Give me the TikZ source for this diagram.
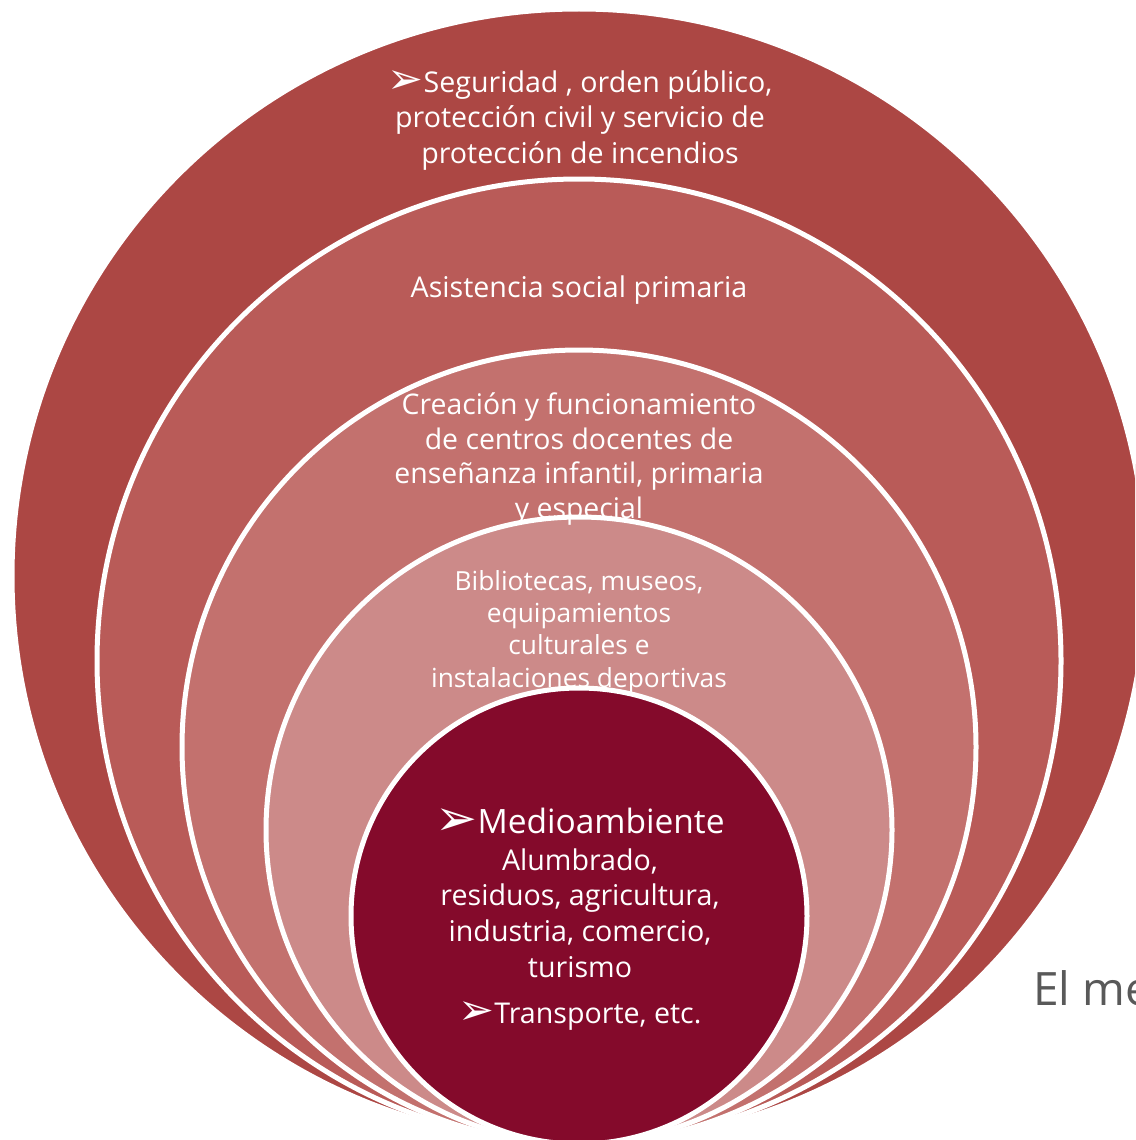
\documentclass[tikz,border=0pt]{standalone}
\usepackage{fontspec}
\setmainfont{Open Sans}
\newfontfamily\dingfont{DejaVu Sans}
\definecolor{cA}{HTML}{AC4744}
\definecolor{cB}{HTML}{B95B58}
\definecolor{cC}{HTML}{C3716E}
\definecolor{cD}{HTML}{CC8A89}
\definecolor{cE}{HTML}{840A2B}
\definecolor{grayT}{HTML}{595959}
\newcommand{\arr}{\raisebox{-0.05em}{\scalebox{1.5}{\dingfont\char"27A2}}}
\begin{document}
\begin{tikzpicture}[x=1pt,y=-1pt,
  ring/.style={draw=white, line width=5pt},
  lbl/.style={text=white, align=center, inner sep=0pt}]
\useasboundingbox (0,0) rectangle (1135,1140);
\clip (0,0) rectangle (1135,1140);
\path[ring, fill=cA] (579,576) circle[radius=567pt];
\path[ring, fill=cB] (579,661) circle[radius=482pt];
\path[ring, fill=cC] (579,747) circle[radius=397pt];
\path[ring, fill=cD] (579,830) circle[radius=313pt];
\path[ring, fill=cE] (579,916) circle[radius=228pt];

\node[lbl, font=\fontsize{28.6}{35.5}\selectfont] (t1) at (580,120)
  {\arr Seguridad , orden público,\\protección civil y servicio de\\protección de incendios};
\node[lbl, font=\fontsize{28.6}{35.5}\selectfont] (t2) at (579,290) {Asistencia social primaria};
\node[lbl, font=\fontsize{28.4}{34.5}\selectfont] (t3) at (579,459)
  {Creación y funcionamiento\\de centros docentes de\\enseñanza infantil, primaria\\y especial};
\node[lbl, font=\fontsize{26.3}{32.3}\selectfont] (t4) at (579,632)
  {Bibliotecas, museos,\\equipamientos\\culturales e\\instalaciones deportivas};
\node[lbl, font=\fontsize{33.5}{38}\selectfont] (t5) at (580,822) {\arr Medioambiente};
\node[lbl, font=\fontsize{28.6}{35.7}\selectfont] (t6) at (580,913)
  {Alumbrado,\\residuos, agricultura,\\industria, comercio,\\turismo};
\node[lbl, font=\fontsize{28.6}{35.5}\selectfont] (t7) at (580,1016) {\arr Transporte, etc.};
\node[anchor=base west, inner sep=0pt, text=grayT, font=\fontsize{46}{50}\selectfont] (t8) at (1033,1005) {El me};
\end{tikzpicture}
\end{document}
